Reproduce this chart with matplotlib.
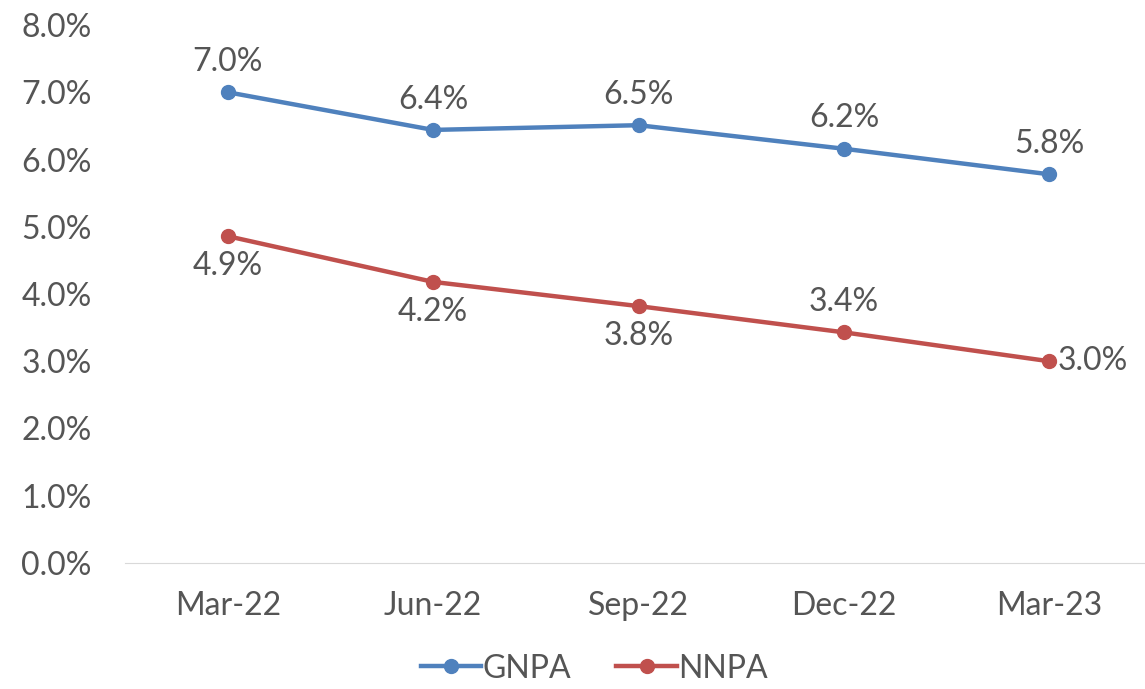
import matplotlib.pyplot as plt

plt.rcParams['font.family'] = ['Lato', 'DejaVu Sans']

quarters = ['Mar-22', 'Jun-22', 'Sep-22', 'Dec-22', 'Mar-23']
gnpa = [7.0, 6.44, 6.51, 6.16, 5.78]
nnpa = [4.86, 4.18, 3.82, 3.43, 3.0]
gnpa_labels = ['7.0%', '6.4%', '6.5%', '6.2%', '5.8%']
nnpa_labels = ['4.9%', '4.2%', '3.8%', '3.4%', '3.0%']

TEXT = '#555555'
BLUE = '#4F81BD'
RED = '#C0504D'
FS = 23

fig = plt.figure(figsize=(11.45, 6.89), dpi=100)
ax = fig.add_axes([125 / 1145, 1 - 563 / 689, 1027 / 1145, 538 / 689])

x = list(range(len(quarters)))
ax.plot(x, gnpa, color=BLUE, lw=3.2, marker='o', ms=10, label='GNPA')
ax.plot(x, nnpa, color=RED, lw=3.2, marker='o', ms=10, label='NNPA')

for i, (v, s) in enumerate(zip(gnpa, gnpa_labels)):
    ax.annotate(s, (i, v), xytext=(0, 11), textcoords='offset points',
                ha='center', va='bottom', fontsize=FS, color=TEXT)

# NNPA label placement varies by point
nnpa_pos = [(0, -11, 'center', 'top'), (0, -11, 'center', 'top'),
            (0, -11, 'center', 'top'), (0, 11, 'center', 'bottom'),
            (6, 0, 'left', 'center')]
for i, (v, s) in enumerate(zip(nnpa, nnpa_labels)):
    dx, dy, ha, va = nnpa_pos[i]
    ax.annotate(s, (i, v), xytext=(dx, dy), textcoords='offset points',
                ha=ha, va=va, fontsize=FS, color=TEXT)

ax.set_xlim(-0.5, 4.5)
ax.set_ylim(0, 8)
ax.set_xticks(x)
ax.set_xticklabels(quarters)
ax.set_yticks(range(0, 9))
ax.set_yticklabels([f'{v:.1f}%' for v in range(0, 9)])
ax.tick_params(axis='both', length=0, labelsize=FS, colors=TEXT)
ax.tick_params(axis='x', pad=20)
ax.tick_params(axis='y', pad=24)
for side in ['top', 'right', 'left']:
    ax.spines[side].set_visible(False)
ax.spines['bottom'].set_color('#D9D9D9')

ax.legend(loc='upper center', bbox_to_anchor=(0.457, -0.115), ncol=2, frameon=False,
          fontsize=FS, labelcolor=TEXT, handlelength=1.9, handletextpad=0.05,
          columnspacing=1.4)

fig.savefig('out.png', dpi=100)
